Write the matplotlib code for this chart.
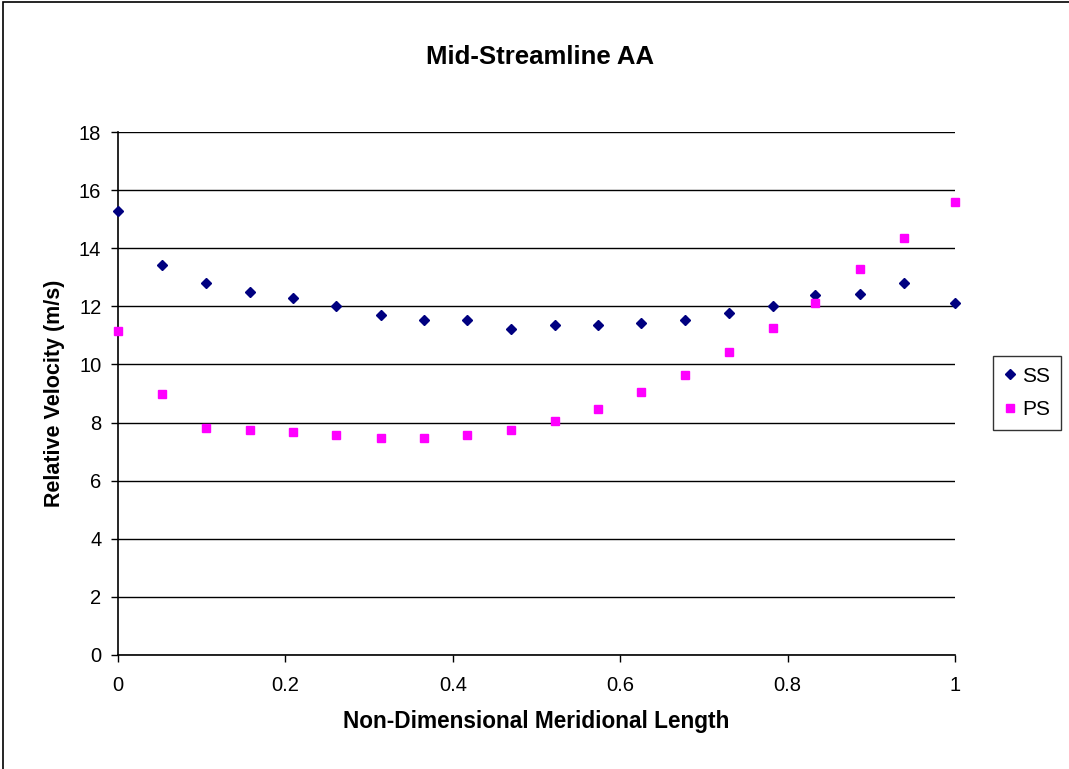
import matplotlib
matplotlib.use("Agg")
import matplotlib.pyplot as plt
from matplotlib.patches import Rectangle

plt.rcParams['font.family'] = ['Liberation Sans', 'DejaVu Sans']

# Non-dimensional meridional position along the blade
length = [0.0, 0.052, 0.105, 0.158, 0.209, 0.260, 0.314, 0.366, 0.417, 0.469,
          0.522, 0.574, 0.625, 0.678, 0.730, 0.782, 0.833, 0.887, 0.939, 1.0]

# Relative velocity on suction side and pressure side (m/s)
ss_velocity = [15.27, 13.42, 12.82, 12.48, 12.30, 12.00, 11.70, 11.52, 11.52, 11.22,
               11.35, 11.35, 11.41, 11.52, 11.76, 12.00, 12.38, 12.41, 12.82, 12.11]
ps_velocity = [11.14, 9.00, 7.82, 7.75, 7.68, 7.57, 7.46, 7.46, 7.57, 7.74,
               8.05, 8.47, 9.05, 9.65, 10.43, 11.26, 12.10, 13.28, 14.35, 15.60]

x_ticks = [0, 0.2, 0.4, 0.6, 0.8, 1]
x_tick_labels = ["0", "0.2", "0.4", "0.6", "0.8", "1"]
y_ticks = list(range(0, 19, 2))

W, H = 1069, 769
fig = plt.figure(figsize=(W / 100, H / 100), dpi=100)
fig.patch.set_facecolor("white")

# outer chart frame
fig.patches.append(Rectangle((3 / W, -0.01), 1.02, 1 - 2 / H + 0.01,
                             transform=fig.transFigure, fill=False,
                             edgecolor="black", linewidth=1.2))

ax = fig.add_axes([118 / W, 1 - 655 / H, (955 - 118) / W, (655 - 132) / H])
ax.set_xlim(0, 1)
ax.set_ylim(0, 18)

ax.set_yticks(y_ticks)
ax.set_yticklabels([str(v) for v in y_ticks])
ax.set_xticks(x_ticks)
ax.set_xticklabels(x_tick_labels)

ax.grid(axis="y", color="black", linewidth=1.0)
ax.set_axisbelow(True)
for side in ("top", "right"):
    ax.spines[side].set_visible(False)
for side in ("left", "bottom"):
    ax.spines[side].set_linewidth(1.2)
    ax.spines[side].set_color("black")

ax.tick_params(axis="both", direction="out", length=5, width=1.0,
               labelsize=14.5, colors="black")
ax.tick_params(axis="x", pad=10)
ax.tick_params(axis="y", pad=7)

ax.plot(length, ss_velocity, linestyle="none", marker="D", markersize=5.3,
        color="#000080", label="SS", clip_on=False, zorder=3)
ax.plot(length, ps_velocity, linestyle="none", marker="s", markersize=6.3,
        color="#FF00FF", label="PS", clip_on=False, zorder=3)

fig.text(540 / W, 1 - 57 / H, "Mid-Streamline AA", ha="center", va="center",
         fontsize=18.5, fontweight="bold")
ax.set_xlabel("Non-Dimensional Meridional Length", fontsize=16.3,
              fontweight="bold", labelpad=11)
ax.set_ylabel("Relative Velocity (m/s)", fontsize=15.5, fontweight="bold",
              labelpad=10)

leg = ax.legend(loc="center left", bbox_to_anchor=(993 / W, 1 - 393 / H),
                bbox_transform=fig.transFigure, frameon=True, fancybox=False,
                edgecolor="black", fontsize=15, handlelength=0.6,
                handletextpad=0.3, borderpad=0.5, labelspacing=0.7,
                borderaxespad=0)
leg.get_frame().set_linewidth(1.0)

fig.savefig("out.png", dpi=100)
